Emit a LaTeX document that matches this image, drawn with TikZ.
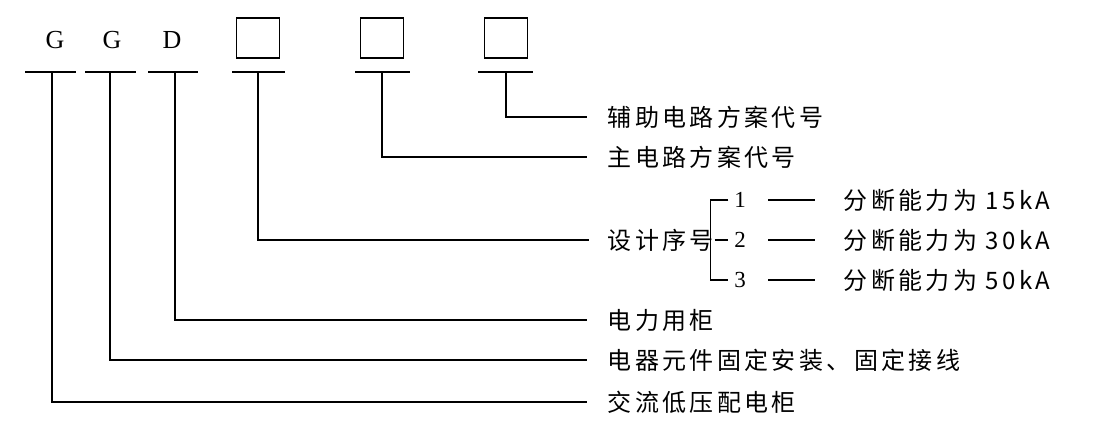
\documentclass[tikz,border=0pt]{standalone}
\usepackage{fontspec}
\setmainfont{Liberation Serif}
\newfontfamily\cjk[LetterSpace=14]{Noto Sans CJK SC}
\begin{document}
\begin{tikzpicture}[x=1pt,y=-1pt,line width=1.6pt,
  lbl/.style={anchor=west,inner sep=0pt,font=\cjk\fontsize{24}{24}\selectfont},
  let/.style={inner sep=0pt,font=\fontsize{26}{26}\selectfont},
  bx/.style={draw,minimum width=43pt,minimum height=40pt,inner sep=0pt,line width=1.4pt}]
\useasboundingbox (0,0) rectangle (1108,434);
\node[let] (g1) at (55,40) {G};
\node[let] (g2) at (112,40) {G};
\node[let] (d) at (172,40) {D};
\node[bx] (b1) at (258,38) {};
\node[bx] (b2) at (382,38) {};
\node[bx] (b3) at (506,38) {};
\foreach \a/\b in {25/76,85/136,148/198,232/285,355/410,478/533} \draw (\a,72)--(\b,72);
\node[lbl] (t7) at (607,402) {交流低压配电柜};
\node[lbl] (t6) at (607,360) {电器元件固定安装、固定接线};
\node[lbl] (t5) at (607,320) {电力用柜};
\node[lbl] (t4) at (607,240) {设计序号};
\node[lbl] (t2) at (607,157) {主电路方案代号};
\node[lbl] (t1) at (607,117) {辅助电路方案代号};
\coordinate (c7) at (52,72); \coordinate (c6) at (110,72); \coordinate (c5) at (175,72);
\coordinate (c4) at (258,72); \coordinate (c2) at (382,72); \coordinate (c1) at (506,72);
\draw (c7) |- ([xshift=-20pt]t7.west);
\draw (c6) |- ([xshift=-20pt]t6.west);
\draw (c5) |- ([xshift=-20pt]t5.west);
\draw (c5) |- ([xshift=-20pt]t5.west);
\draw (c4) |- ([xshift=-18pt]t4.west);
\draw (c2) |- ([xshift=-20pt]t2.west);
\draw (c1) |- ([xshift=-20pt]t1.west);
\foreach \n/\d/\y/\v in {a/1/200/15,b/2/240/30,c/3/280/50}{
  \node[let,font=\fontsize{23}{23}\selectfont] (n\n) at (740,\y) {\d};
  \node[lbl] (k\n) at (843,\y) {分断能力为 \v kA};
  \draw (768,\y)--(815,\y);
}
\draw ([xshift=-5pt]na.west) -- ++(-18,0) coordinate (tl) |- ([xshift=-5pt]nc.west);
\draw (t4.east) -- ([xshift=-5pt]nb.west);
\end{tikzpicture}
\end{document}
